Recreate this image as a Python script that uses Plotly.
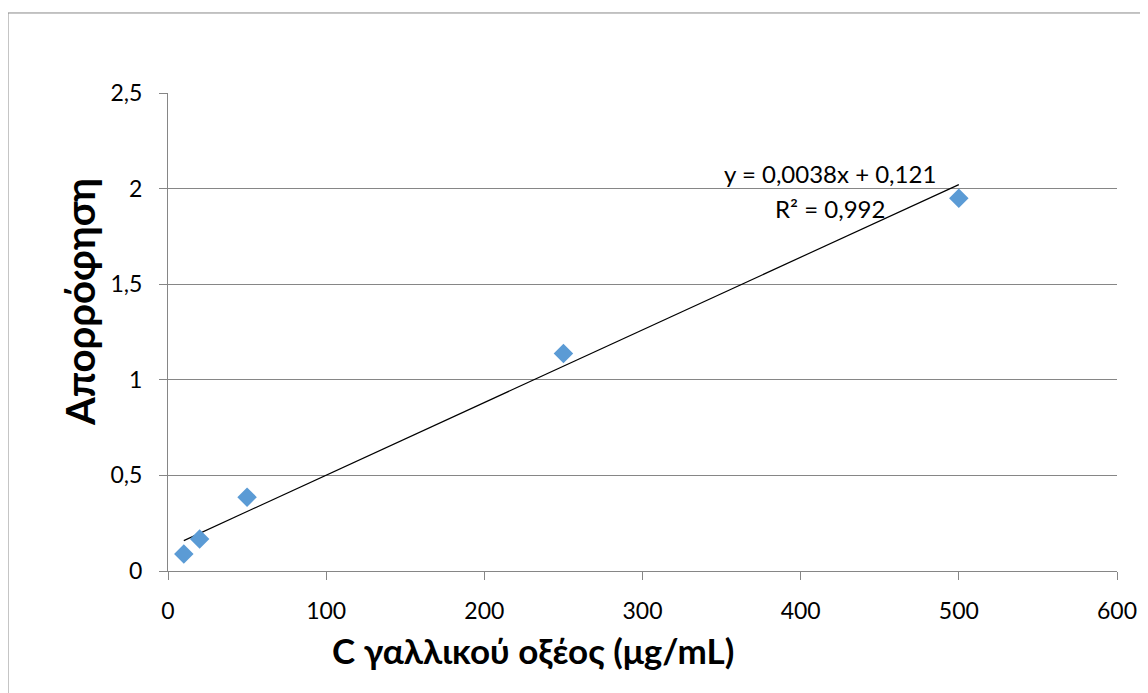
import plotly.graph_objects as go

# Data
conc = [10, 20, 50, 250, 500]            # μg/mL
absorb = [0.089, 0.167, 0.386, 1.138, 1.95]
slope = 0.0038
intercept = 0.121
r2 = 0.992
x_ticks = [0, 100, 200, 300, 400, 500, 600]
y_ticks = [0, 0.5, 1, 1.5, 2, 2.5]

FONT = "Lato"
GREY = "#868686"

trend_x = [min(conc), max(conc)]
trend_y = [slope * v + intercept for v in trend_x]

fig = go.Figure()
fig.add_trace(go.Scatter(x=trend_x, y=trend_y, mode="lines",
                         line=dict(color="black", width=1.2),
                         hoverinfo="skip", showlegend=False))
fig.add_trace(go.Scatter(x=conc, y=absorb, mode="markers",
                         marker=dict(symbol="diamond", size=15, color="#5B9BD5"),
                         showlegend=False))

fig.update_layout(
    width=1140, height=685,
    margin=dict(l=160, r=31, t=85, b=122),
    paper_bgcolor="white", plot_bgcolor="white",
    separators=",.",
    font=dict(family=FONT, size=23, color="black"),
    xaxis=dict(range=[0, 600], tickvals=x_ticks, showgrid=False,
               showline=True, linecolor=GREY, linewidth=1,
               ticks="outside", ticklen=8, tickcolor=GREY,
               zeroline=False, ticklabelstandoff=11,
               tickfont=dict(family=FONT, size=23)),
    yaxis=dict(range=[0, 2.5], tickvals=y_ticks, showgrid=True,
               gridcolor=GREY, gridwidth=1,
               showline=True, linecolor=GREY, linewidth=1,
               ticks="outside", ticklen=8, tickcolor=GREY,
               zeroline=False, ticklabelstandoff=12,
               tickfont=dict(family=FONT, size=23)),
)

fig.add_annotation(text="C γαλλικού οξέος (μg/mL)", xref="paper", yref="paper",
                   x=0.3846, y=-0.165, showarrow=False,
                   xanchor="center", yanchor="middle",
                   font=dict(family=FONT, size=35, color="black", weight="bold"))
fig.add_annotation(text="Απορρόφηση", xref="paper", yref="paper",
                   x=-0.0927, y=0.5628, showarrow=False, textangle=-90,
                   xanchor="center", yanchor="middle",
                   font=dict(family=FONT, size=40, color="black", weight="bold"))

eq_text = "y = " + f"{slope}".replace(".", ",") + "x + " + f"{intercept}".replace(".", ",")
r2_text = "R² = " + f"{r2}".replace(".", ",")
fig.add_annotation(text=eq_text, x=418.5, y=2.078, xref="x", yref="y",
                   showarrow=False, xanchor="center", yanchor="middle",
                   font=dict(family=FONT, size=24, color="black"))
fig.add_annotation(text=r2_text, x=418.5, y=1.895, xref="x", yref="y",
                   showarrow=False, xanchor="center", yanchor="middle",
                   font=dict(family=FONT, size=24, color="black"))

# chart-area border (partly outside the view at right/bottom)
fig.add_shape(type="rect", xref="paper", yref="paper",
              x0=-0.1686, y0=-0.35, x1=1.1, y1=1.1674,
              line=dict(color="#898989", width=1), layer="below")

fig.write_html("out.html")
